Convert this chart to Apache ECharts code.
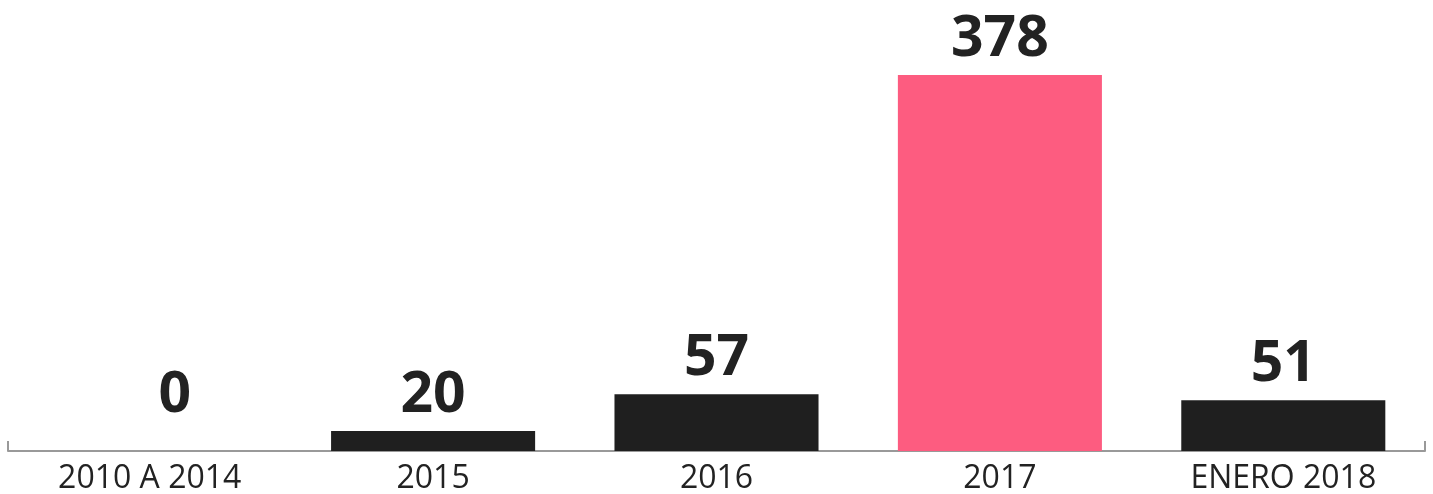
<!DOCTYPE html>
<html>
<head>
<meta charset="utf-8">
<script src="https://cdn.jsdelivr.net/npm/echarts@6/dist/echarts.min.js"></script>
<style>
  html, body { margin: 0; padding: 0; background: #fff; }
  #chart { width: 1433px; height: 494px; }
</style>
</head>
<body>
<div id="chart"></div>
<script>
var categories = ["2010 A 2014", "2015", "2016", "2017", "ENERO 2018"];
var values = [0, 20, 57, 378, 51];
var highlight = "2017";

var chart = echarts.init(document.getElementById("chart"));

// zero bar: its label sits a bit higher and off-centre in the original
var barData = values.map(function (v, i) {
    return {
        value: v,
        itemStyle: { color: categories[i] === highlight ? "#fd5c80" : "#1f1f1f" },
        label: v === 0 ? { distance: 27, offset: [25, 0] } : { distance: 7 },
    };
});

var option = {
    animation: false,
    grid: { left: 8, right: 8, top: 75, bottom: 43, outerBoundsMode: "none" },
    xAxis: [
        {
            type: "category",
            data: categories,
            axisLine: { lineStyle: { color: "#999", width: 2 } },
            axisTick: { show: false },
            axisLabel: {
                color: "#222",
                fontFamily: "Open Sans",
                fontSize: 32,
                margin: 12,
            },
        },
        {
            type: "value",
            position: "bottom",
            min: 0,
            max: 1,
            interval: 1,
            axisLine: { show: false },
            axisLabel: { show: false },
            splitLine: { show: false },
            axisTick: {
                show: true,
                inside: true,
                length: 10,
                lineStyle: { color: "#999", width: 2 },
            },
        },
    ],
    yAxis: {
        type: "value",
        min: 0,
        max: 378,
        show: false,
    },
    series: [
        {
            type: "bar",
            xAxisIndex: 0,
            barWidth: "72%",
            data: barData,
            label: {
                show: true,
                position: "top",
                color: "#222",
                fontFamily: "Open Sans",
                fontWeight: "bold",
                fontSize: 57,
            },
        },
    ],
};
chart.setOption(option);
</script>
</body>
</html>
